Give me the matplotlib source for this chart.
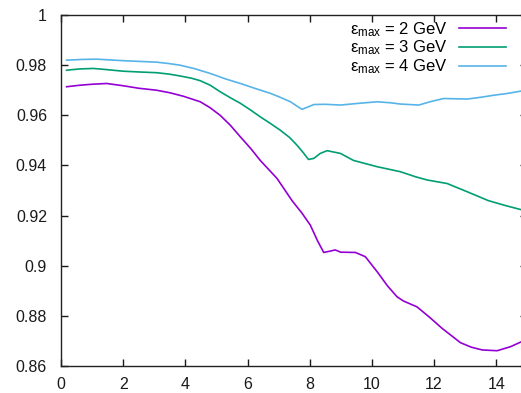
import matplotlib
matplotlib.use("Agg")
import matplotlib.pyplot as plt

plt.rcParams['font.family'] = ['Liberation Sans', 'DejaVu Sans']
plt.rcParams['mathtext.fontset'] = 'custom'
plt.rcParams['mathtext.rm'] = 'Liberation Sans'
plt.rcParams['mathtext.it'] = 'Liberation Sans:italic'

# Efficiency curves for three values of the maximum energy
x_2gev = [0.18, 0.6, 1.0, 1.47, 2.0, 2.5, 3.08, 3.5, 3.94, 4.48, 4.8, 5.12, 5.45, 5.77,
          6.1, 6.41, 6.95, 7.43, 7.75, 8.02, 8.25, 8.45, 8.65, 8.82, 9.0, 9.47, 9.79,
          10.17, 10.5, 10.81, 11.02, 11.45, 11.85, 12.26, 12.85, 13.2, 13.55, 14.03,
          14.46, 14.85]
y_2gev = [0.9714, 0.9720, 0.9724, 0.9727, 0.9718, 0.9708, 0.9700, 0.9690, 0.9676, 0.9654,
          0.9630, 0.9600, 0.9560, 0.9514, 0.9468, 0.9420, 0.9348, 0.9260, 0.9210, 0.9162,
          0.9100, 0.9053, 0.9058, 0.9063, 0.9054, 0.9053, 0.9036, 0.8976, 0.8920, 0.8876,
          0.8859, 0.8836, 0.8795, 0.8750, 0.8693, 0.8675, 0.8664, 0.8661, 0.8677, 0.8699]

x_3gev = [0.18, 0.6, 1.04, 1.5, 2.0, 2.5, 3.08, 3.5, 3.83, 4.2, 4.48, 4.8, 5.12, 5.45,
          5.77, 6.1, 6.41, 6.73, 7.05, 7.35, 7.59, 7.8, 7.96, 8.13, 8.34, 8.56, 8.99,
          9.41, 10.17, 10.92, 11.4, 11.78, 12.42, 13.07, 13.74, 14.3, 14.85]
y_3gev = [0.9780, 0.9785, 0.9787, 0.9782, 0.9776, 0.9773, 0.9770, 0.9764, 0.9757, 0.9748,
          0.9738, 0.9720, 0.9694, 0.9670, 0.9648, 0.9621, 0.9594, 0.9568, 0.9541, 0.9512,
          0.9481, 0.9450, 0.9424, 0.9428, 0.9448, 0.9459, 0.9448, 0.9420, 0.9395, 0.9375,
          0.9355, 0.9342, 0.9328, 0.9295, 0.9260, 0.9240, 0.9222]

x_4gev = [0.18, 0.7, 1.15, 2.0, 3.08, 3.5, 3.83, 4.3, 4.8, 5.3, 5.77, 6.25, 6.73, 7.05,
          7.38, 7.6, 7.75, 7.96, 8.13, 8.5, 8.99, 9.5, 10.17, 10.6, 10.92, 11.51, 11.9,
          12.31, 13.07, 13.5, 13.92, 14.4, 14.85]
y_4gev = [0.9820, 0.9823, 0.9824, 0.9818, 0.9812, 0.9806, 0.9800, 0.9786, 0.9767, 0.9745,
          0.9727, 0.9707, 0.9688, 0.9672, 0.9654, 0.9636, 0.9624, 0.9634, 0.9643, 0.9644,
          0.9641, 0.9647, 0.9654, 0.9650, 0.9645, 0.9641, 0.9655, 0.9667, 0.9665, 0.9672,
          0.9680, 0.9688, 0.9698]

labels = [r'ε$_{\rm max}$ = 2 GeV', r'ε$_{\rm max}$ = 3 GeV', r'ε$_{\rm max}$ = 4 GeV']
colors = ['#9400d3', '#009e73', '#56b4e9']

xticks = [0, 2, 4, 6, 8, 10, 12, 14]
yticks = [0.86, 0.88, 0.9, 0.92, 0.94, 0.96, 0.98, 1.0]
yticklabels = ['0.86', '0.88', '0.9', '0.92', '0.94', '0.96', '0.98', '1']

fig = plt.figure(figsize=(5.21, 3.93), dpi=100)
ax = fig.add_axes([0.1171, 0.0687, 0.895, 0.893])

for xs, ys, lab, col in zip([x_2gev, x_3gev, x_4gev], [y_2gev, y_3gev, y_4gev], labels, colors):
    ax.plot(xs, ys, color=col, lw=1.2, label=lab)

ax.set_xlim(0, 15)
ax.set_ylim(0.86, 1.0)
ax.set_xticks(xticks)
ax.set_yticks(yticks)
ax.set_yticklabels(yticklabels)
ax.tick_params(direction='in', top=True, right=True, length=5, width=1,
               labelsize=11.5, colors='#1a1a1a')
ax.tick_params(axis='y', pad=10)
ax.tick_params(axis='x', pad=8)
for sp in ax.spines.values():
    sp.set_linewidth(1.0)
    sp.set_color('#222222')

leg = ax.legend(loc='upper right', bbox_to_anchor=(0.984, 0.966), bbox_transform=fig.transFigure,
                frameon=False, markerfirst=False, fontsize=12, handlelength=2.8,
                handletextpad=0.66, labelspacing=0.0, borderaxespad=0.0)

fig.savefig('out.png', dpi=100)
